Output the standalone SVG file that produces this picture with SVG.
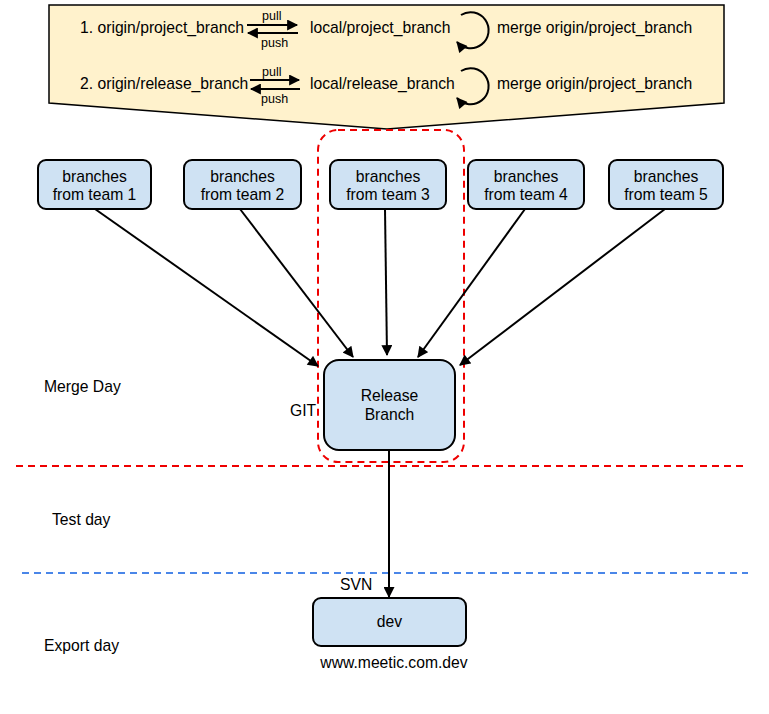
<svg xmlns="http://www.w3.org/2000/svg" width="769" height="714" viewBox="0 0 769 714">
<defs>
<style>
text{font-family:"Liberation Sans",Arial,sans-serif;fill:#000}
.t{font-size:15.7px}
.s{font-size:12.5px}
.node{fill:#cfe2f3;stroke:#000;stroke-width:2}
.conn{stroke:#000;stroke-width:2;fill:none}
.thin{stroke:#000;stroke-width:2;fill:none}
</style>
<marker id="ah2" viewBox="0 0 10 10" refX="9" refY="5" markerWidth="12" markerHeight="11" orient="auto" markerUnits="userSpaceOnUse">
<path d="M0,0 L10,5 L0,10 z" fill="#000"/>
</marker>
</defs>
<rect width="769" height="714" fill="#fff"/>

<g id="banner">
<path d="M49,5 L724,5 L724,103 L387,129 L49,103 Z" fill="#fff2cc" stroke="#000" stroke-width="1.5"/>
<text class="t" x="80" y="33">1. origin/project_branch</text>
<text class="s" x="262" y="20">pull</text>
<text class="s" x="261" y="47">push</text>
<line class="thin" x1="247" y1="25" x2="297" y2="25" marker-end="url(#ah2)"/>
<line class="thin" x1="298" y1="33" x2="248" y2="33" marker-end="url(#ah2)"/>
<text class="t" x="310" y="33">local/project_branch</text>
<path class="thin" d="M461,15 A18,18 0 1 1 457,42" marker-end="url(#ah2)"/>
<text class="t" x="497" y="33">merge origin/project_branch</text>

<text class="t" x="80" y="89">2. origin/release_branch</text>
<text class="s" x="262" y="76">pull</text>
<text class="s" x="261" y="103">push</text>
<line class="thin" x1="250" y1="80" x2="299" y2="80" marker-end="url(#ah2)"/>
<line class="thin" x1="300" y1="89" x2="251" y2="89" marker-end="url(#ah2)"/>
<text class="t" x="310" y="89">local/release_branch</text>
<path class="thin" d="M461,71 A18,18 0 1 1 457,98" marker-end="url(#ah2)"/>
<text class="t" x="497" y="89">merge origin/project_branch</text>
</g>

<g id="git-group">
<rect x="318" y="130" width="146" height="332" rx="20" fill="none" stroke="#e00" stroke-width="2" stroke-dasharray="7,5"/>
</g>

<g id="lines">
<line x1="16" y1="466" x2="748" y2="466" stroke="#e00" stroke-width="2" stroke-dasharray="7,5"/>
<line x1="22" y1="573" x2="748" y2="573" stroke="#4a86e8" stroke-width="2" stroke-dasharray="7,5"/>
</g>

<g id="team1"><rect class="node" x="38" y="160" width="113" height="49" rx="8"/><text class="t" text-anchor="middle" x="94.5" y="182">branches</text><text class="t" text-anchor="middle" x="94.5" y="200">from team 1</text></g>
<g id="team2"><rect class="node" x="184" y="160" width="117" height="49" rx="8"/><text class="t" text-anchor="middle" x="242.5" y="182">branches</text><text class="t" text-anchor="middle" x="242.5" y="200">from team 2</text></g>
<g id="team3"><rect class="node" x="330" y="160" width="116" height="49" rx="8"/><text class="t" text-anchor="middle" x="388" y="182">branches</text><text class="t" text-anchor="middle" x="388" y="200">from team 3</text></g>
<g id="team4"><rect class="node" x="468" y="160" width="116" height="49" rx="8"/><text class="t" text-anchor="middle" x="526" y="182">branches</text><text class="t" text-anchor="middle" x="526" y="200">from team 4</text></g>
<g id="team5"><rect class="node" x="609" y="160" width="114" height="49" rx="8"/><text class="t" text-anchor="middle" x="666" y="182">branches</text><text class="t" text-anchor="middle" x="666" y="200">from team 5</text></g>

<g id="release"><rect class="node" x="324" y="360" width="131" height="90" rx="15"/><text class="t" text-anchor="middle" x="389.5" y="401">Release</text><text class="t" text-anchor="middle" x="389.5" y="420">Branch</text></g>

<g id="dev"><rect class="node" x="313" y="598" width="153" height="48" rx="8"/><text class="t" text-anchor="middle" x="389.5" y="627">dev</text></g>

<g id="labels">
<text class="t" x="44" y="392">Merge Day</text>
<text class="t" x="290" y="416">GIT</text>
<text class="t" x="52" y="525">Test day</text>
<text class="t" x="340" y="590">SVN</text>
<text class="t" x="44" y="651">Export day</text>
<text class="t" text-anchor="middle" x="394" y="668">www.meetic.com.dev</text>
</g>

<g id="connectors">
<line class="conn" x1="95" y1="209" x2="318" y2="366" marker-end="url(#ah2)"/>
<line class="conn" x1="240" y1="209" x2="353" y2="357" marker-end="url(#ah2)"/>
<line class="conn" x1="385" y1="209" x2="387" y2="355" marker-end="url(#ah2)"/>
<line class="conn" x1="525" y1="209" x2="418" y2="357" marker-end="url(#ah2)"/>
<line class="conn" x1="665" y1="209" x2="460" y2="365" marker-end="url(#ah2)"/>
<line class="conn" x1="389" y1="450" x2="389" y2="597" marker-end="url(#ah2)"/>
</g>
</svg>
